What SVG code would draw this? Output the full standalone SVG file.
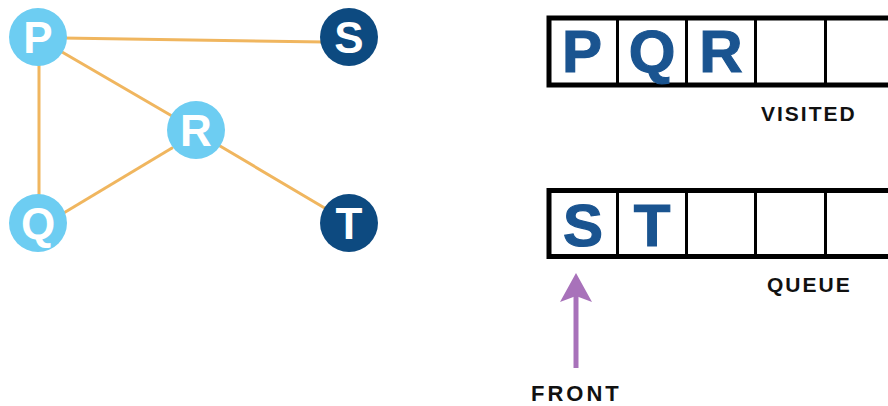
<svg xmlns="http://www.w3.org/2000/svg" width="888" height="406" viewBox="0 0 888 406">
<defs>
<style>
.edge{stroke:#F0B65F;stroke-width:3;fill:none;stroke-linecap:round}
.light{fill:#6DCDF2}
.dark{fill:#0D4A80}
.nl{font-family:"Liberation Sans",Arial,sans-serif;font-weight:bold;font-size:44px;fill:#fff;text-anchor:middle}
.outer{fill:#fff;stroke:#000;stroke-width:5}
.div{stroke:#000;stroke-width:3}
.bl{font-family:"Liberation Sans",Arial,sans-serif;font-weight:bold;font-size:60px;fill:#1A5490;stroke:#1A5490;stroke-width:1.2;text-anchor:middle}
.cap{font-family:"Liberation Sans",Arial,sans-serif;font-weight:bold;font-size:21px;fill:#111;letter-spacing:2px}
</style>
</defs>
<rect width="888" height="406" fill="#fff"/>
<g id="connectors">
<line class="edge" x1="62" y1="38" x2="325" y2="42"/>
<line class="edge" x1="39" y1="60" x2="39" y2="200"/>
<line class="edge" x1="62" y1="52" x2="172" y2="116"/>
<line class="edge" x1="62" y1="214" x2="172" y2="148"/>
<line class="edge" x1="220" y1="146" x2="328" y2="210"/>
</g>
<g id="node-P"><circle class="light" cx="38" cy="37" r="29"/><text class="nl" x="38" y="53">P</text></g>
<g id="node-S"><circle class="dark" cx="349" cy="37" r="29"/><text class="nl" x="349" y="53">S</text></g>
<g id="node-R"><circle class="light" cx="196" cy="130" r="29"/><text class="nl" x="196" y="146">R</text></g>
<g id="node-Q"><circle class="light" cx="38" cy="223" r="29"/><text class="nl" x="38" y="239">Q</text></g>
<g id="node-T"><circle class="dark" cx="349" cy="223" r="29"/><text class="nl" x="349" y="239">T</text></g>
<g id="visited">
<rect class="outer" x="549" y="18" width="345" height="67"/>
<line class="div" x1="617.5" y1="18" x2="617.5" y2="85"/>
<line class="div" x1="686.5" y1="18" x2="686.5" y2="85"/>
<line class="div" x1="755.5" y1="18" x2="755.5" y2="85"/>
<line class="div" x1="825.5" y1="18" x2="825.5" y2="85"/>
<text class="bl" x="582" y="72">P</text>
<text class="bl" x="652" y="72">Q</text>
<text class="bl" x="721" y="72">R</text>
<text class="cap" x="761" y="121">VISITED</text>
</g>
<g id="queue">
<rect class="outer" x="549" y="190.5" width="345" height="66"/>
<line class="div" x1="617.5" y1="190" x2="617.5" y2="257"/>
<line class="div" x1="686.5" y1="190" x2="686.5" y2="257"/>
<line class="div" x1="755.5" y1="190" x2="755.5" y2="257"/>
<line class="div" x1="825.5" y1="190" x2="825.5" y2="257"/>
<text class="bl" x="583" y="246">S</text>
<text class="bl" x="652" y="246">T</text>
<text class="cap" x="767" y="292">QUEUE</text>
</g>
<g id="front">
<line x1="576" y1="296" x2="576" y2="368" stroke="#A872BA" stroke-width="5"/>
<path d="M576 273 L592 302 L576 296 L560 302 Z" fill="#A872BA"/>
<text class="cap" x="531" y="401" style="font-size:22px;letter-spacing:3px">FRONT</text>
</g>
</svg>
